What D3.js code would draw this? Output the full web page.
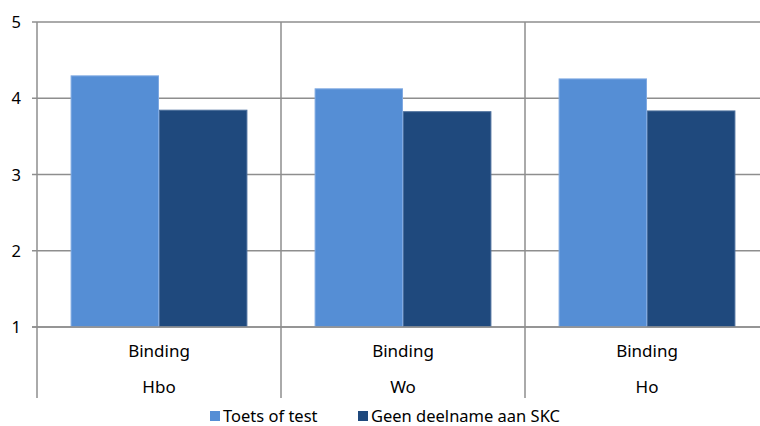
<!DOCTYPE html>
<html>
<head>
<meta charset="utf-8">
<script src="https://cdn.jsdelivr.net/npm/d3@7"></script>
<style>
  body { margin: 0; background: #fff; }
  text { font-family: "Noto Sans", sans-serif; fill: #000; }
</style>
</head>
<body>
<script>
// data
let groups = ["Hbo", "Wo", "Ho"];
let measure = "Binding";
let seriesNames = ["Toets of test", "Geen deelname aan SKC"];
let toetsValues = [4.30, 4.13, 4.26];
let geenValues = [3.85, 3.83, 3.84];
let yTicks = [1, 2, 3, 4, 5];
let colors = ["#558ED5", "#1F497D"];
let edgeColors = ["#7FA9E2", "#4A6E9C"];

let fullWidth = 760, fullHeight = 426;
let plot = { left: 37, right: 769, top: 22, bottom: 327 };

let svg = d3.select("body").append("svg")
    .attr("width", fullWidth)
    .attr("height", fullHeight);

let x = d3.scaleBand()
    .domain(groups)
    .range([plot.left, plot.right])
    .padding(0);

let xInner = d3.scaleBand()
    .domain(seriesNames)
    .range([0, x.bandwidth()])
    .paddingInner(0)
    .paddingOuter(0.38);

let y = d3.scaleLinear()
    .domain([1, 5])
    .range([plot.bottom, plot.top]);

//horizontal gridlines
svg.append("g").selectAll("line")
    .data(yTicks)
    .enter()
    .append("line")
    .attr("x1", plot.left - 5)
    .attr("x2", plot.right)
    .attr("y1", d => y(d))
    .attr("y2", d => y(d))
    .attr("stroke", "#8e8e8e")
    .attr("stroke-width", 1.5);

//y tick labels
svg.append("g").selectAll("text")
    .data(yTicks)
    .enter()
    .append("text")
    .attr("x", 21)
    .attr("y", d => y(d) + 6)
    .attr("text-anchor", "end")
    .style("font-size", "16.5px")
    .text(d => d);

//vertical axis + group dividers
let dividers = [plot.left].concat(groups.map(g => x(g) + x.bandwidth())).filter(v => v < fullWidth);
svg.append("g").selectAll("line")
    .data(dividers)
    .enter()
    .append("line")
    .attr("x1", d => d)
    .attr("x2", d => d)
    .attr("y1", plot.top)
    .attr("y2", 398)
    .attr("stroke", "#8e8e8e")
    .attr("stroke-width", 1.5);

//bars
let rows = groups.map((g, i) => ({ group: g, values: [toetsValues[i], geenValues[i]] }));

let groupG = svg.append("g").selectAll("g")
    .data(rows)
    .enter()
    .append("g")
    .attr("transform", d => "translate(" + x(d.group) + ",0)");

groupG.selectAll("rect")
    .data(d => d.values.map((v, i) => ({ name: seriesNames[i], value: v, idx: i })))
    .enter()
    .append("rect")
    .attr("x", d => xInner(d.name) + 0.5)
    .attr("y", d => y(d.value) + 0.5)
    .attr("width", xInner.bandwidth() - 1)
    .attr("height", d => y(1) - y(d.value) - 1)
    .attr("fill", d => colors[d.idx])
    .attr("stroke", d => edgeColors[d.idx])
    .attr("stroke-width", 1);

//redraw baseline over bars
svg.append("line")
    .attr("x1", plot.left - 5)
    .attr("x2", plot.right)
    .attr("y1", y(1))
    .attr("y2", y(1))
    .attr("stroke", "#8e8e8e")
    .attr("stroke-width", 1.5);

//category labels
let labels = svg.append("g").selectAll("g")
    .data(groups)
    .enter()
    .append("g")
    .attr("transform", d => "translate(" + (x(d) + x.bandwidth() / 2) + ",0)");

labels.append("text")
    .attr("y", 357)
    .attr("text-anchor", "middle")
    .style("font-size", "17px")
    .text(measure);

labels.append("text")
    .attr("y", 393)
    .attr("text-anchor", "middle")
    .style("font-size", "17px")
    .text(d => d);

//legend
let legendX = [210, 358];
let legend = svg.append("g").selectAll("g")
    .data(seriesNames)
    .enter()
    .append("g")
    .attr("transform", (d, i) => "translate(" + legendX[i] + ",411)");

legend.append("rect")
    .attr("width", 10)
    .attr("height", 10)
    .attr("fill", (d, i) => colors[i]);

legend.append("text")
    .attr("x", 13)
    .attr("y", 10.5)
    .style("font-size", "16.5px")
    .text(d => d);
</script>
</body>
</html>
